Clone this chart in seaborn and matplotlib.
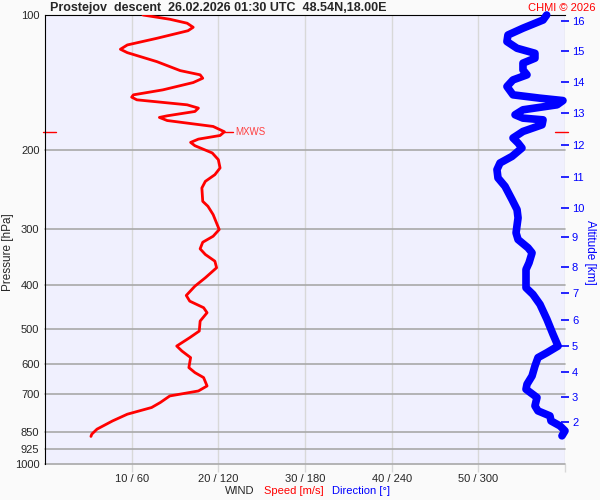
import matplotlib
matplotlib.use("Agg")
import matplotlib.pyplot as plt
import seaborn as sns

# wind speed profile (m/s) against pressure (hPa)
speed_p = [100.0, 102.2, 104.3, 106.5, 108.4, 112.7, 116.6, 119.2, 121.3, 127.0,
           133.0, 135.9, 138.3, 141.4, 146.8, 150.6, 152.4, 154.5, 158.5, 161.2,
           164.0, 167.7, 169.1, 171.8, 177.1, 182.0, 185.5, 189.0, 192.2, 195.5,
           202.9, 210.0, 219.1, 226.8, 234.7, 242.8, 260.0, 266.7, 278.3, 300.5,
           311.0, 320.7, 331.7, 341.5, 353.4, 365.5, 384.8, 401.7, 421.3, 433.8,
           448.6, 460.3, 480.5, 505.7, 523.1, 546.1, 560.3, 579.5, 610.0, 625.8,
           642.0, 670.2, 687.6, 705.4, 729.6, 748.5, 774.6, 801.7, 836.3, 858.0, 868.2]
speed = [11.3, 14.4, 16.4, 17.1, 16.5, 12.9, 9.5, 8.7, 9.5, 12.9,
         15.6, 17.9, 18.2, 17.1, 13.6, 10.2, 10.0, 10.6, 16.4, 17.7,
         17.3, 14.1, 13.2, 14.1, 19.4, 20.7, 20.2, 17.7, 16.8, 17.3,
         19.3, 20.0, 20.2, 19.6, 18.5, 18.1, 18.2, 18.8, 19.4, 20.1,
         19.4, 18.2, 17.9, 18.5, 19.6, 19.8, 18.5, 17.3, 16.3, 16.7,
         18.3, 18.7, 17.9, 17.8, 16.7, 15.2, 15.8, 16.8, 16.6, 17.3,
         18.3, 18.7, 17.7, 14.4, 13.3, 12.3, 9.5, 7.8, 6.0, 5.4, 5.3]

# wind direction profile (deg) against pressure (hPa)
dir_p = [100.0, 102.6, 107.0, 110.8, 114.6, 118.6, 121.7, 124.8, 128.0, 132.5,
         135.9, 139.5, 144.3, 150.6, 153.2, 155.1, 158.5, 162.6, 166.8, 169.7,
         171.2, 175.6, 181.7, 187.9, 192.8, 197.8, 206.5, 213.6, 221.0, 230.6,
         240.8, 257.7, 271.3, 283.0, 305.6, 316.3, 330.0, 338.6, 356.3, 368.8,
         405.0, 419.1, 441.1, 476.3, 514.3, 546.1, 565.0, 579.5, 605.0, 636.7,
         664.2, 681.6, 711.0, 742.4, 761.6, 781.4, 801.7, 822.4, 843.6, 865.5]
direction = [347.3, 344.8, 330.9, 320.5, 319.8, 326.8, 339.2, 339.2, 330.9, 330.9,
             333.7, 324.0, 319.8, 324.0, 342.7, 358.6, 354.5, 330.9, 325.4, 330.9,
             344.8, 344.1, 330.9, 324.0, 327.5, 330.2, 323.3, 315.0, 312.9, 313.6,
             318.5, 323.3, 326.8, 327.5, 326.1, 327.5, 334.4, 337.2, 335.1, 333.0,
             333.0, 337.8, 342.7, 347.5, 351.7, 355.2, 347.5, 341.3, 339.2, 337.2,
             333.7, 333.0, 340.6, 339.2, 341.3, 349.6, 350.3, 356.5, 360.0, 357.9]

pressure_ticks = [100, 200, 300, 400, 500, 600, 700, 850, 925, 1000]
speed_ticks = [10, 20, 30, 40, 50, 60]
speed_labels = ["10 / 60", "20 / 120", "30 / 180", "40 / 240", "50 / 300", ""]

alt_km = [2, 3, 4, 5, 6, 7, 8, 9, 10, 11, 12, 13, 14, 15, 16]
alt_p = [804.8, 708.2, 623.2, 547.0, 478.7, 417.0, 363.2, 311.5, 269.2,
         229.1, 194.8, 165.4, 140.9, 120.4, 102.9]

mxws_p = 182.0
mxws_speed = 20.7

title = "Prostejov  descent  26.02.2026 01:30 UTC  48.54N,18.00E"

sns.set_style("white")
plt.rcParams["font.family"] = ["Liberation Sans", "DejaVu Sans"]

fig = plt.figure(figsize=(6, 5), dpi=100, facecolor="#fafafa")
ax = fig.add_axes([45 / 600, 36 / 500, 520 / 600, 449 / 500])
ax.set_facecolor("#f0f0fe")

# speed (red)
sns.lineplot(x=speed, y=speed_p, sort=False, estimator=None, color="red",
             lw=2, ax=ax, zorder=5, solid_joinstyle="round")

# direction (blue) on a twin x axis 0-360
ax2 = ax.twiny()
sns.lineplot(x=direction, y=dir_p, sort=False, estimator=None, color="blue",
             lw=5.5, ax=ax2, zorder=5, solid_capstyle="round",
             solid_joinstyle="round", clip_on=False)
ax2.set_xlim(0, 360)
ax2.set_xticks([])
for s in ax2.spines.values():
    s.set_visible(False)
ax2.set_xlabel("")

ax.set_yscale("log")
ax.set_xlim(0, 60)
ax.set_ylim(1000, 100)
ax.set_yticks(pressure_ticks, labels=[str(p) for p in pressure_ticks])
ax.minorticks_off()
ax.set_xticks(speed_ticks, labels=speed_labels)
ax.set_xlabel("")
ax.set_ylabel("")
ax.set_axisbelow(True)
ax.grid(axis="x", color="#d8d8d8", lw=1)
for p in pressure_ticks[1:]:
    ax.axhline(p, color="#a8a8a8", lw=1.2, zorder=1, clip_on=False)
ax.tick_params(axis="y", length=0, pad=4, labelsize=8)
ax.tick_params(axis="x", length=6, width=1, color="#d8d8d8", pad=1, labelsize=8)
ax.spines["left"].set_color("black")
ax.spines["top"].set_color("black")
ax.spines["right"].set_visible(False)
ax.spines["bottom"].set_visible(False)

# max wind marker
ax.plot([mxws_speed, mxws_speed + 1.0], [mxws_p, mxws_p], color="red", lw=1, zorder=6)
ax.text(mxws_speed + 1.2, mxws_p, "MXWS", color="#ff4040", fontsize=7, va="center")
ytr = ax.get_yaxis_transform()
ax.plot([-0.004, 0.021], [mxws_p, mxws_p], transform=ytr, color="red", lw=1, clip_on=False)
ax.plot([0.981, 1.006], [mxws_p, mxws_p], transform=ytr, color="red", lw=1, clip_on=False)

# altitude axis on the right
ax3 = ax.twinx()
ax3.set_yscale("log")
ax3.set_ylim(1000, 100)
ax3.set_yticks(alt_p, labels=[str(k) for k in alt_km])
ax3.minorticks_off()
ax3.tick_params(axis="y", colors="blue", direction="inout", length=6,
                width=1.2, labelsize=8, pad=2)
for s in ax3.spines.values():
    s.set_visible(False)

fig.text(50 / 600, 1 - 8 / 500, title, fontweight="bold", fontsize=9, va="center")
fig.text(596 / 600, 1 - 8 / 500, "CHMI © 2026", color="red", fontsize=8,
         ha="right", va="center")
fig.text(8 / 600, 1 - 252 / 500, "Pressure [hPa]", rotation=90, fontsize=8.5,
         ha="center", va="center")
fig.text(590 / 600, 1 - 252 / 500, "Altitude [km]", rotation=270, fontsize=8.5,
         color="blue", ha="center", va="center")
fig.text(225 / 600, 1 - 491 / 500, "WIND", fontsize=8, va="center")
fig.text(264 / 600, 1 - 491 / 500, "Speed [m/s]", fontsize=8, color="red", va="center")
fig.text(332 / 600, 1 - 491 / 500, "Direction [°]", fontsize=8, color="blue", va="center")

fig.savefig("out.png", dpi=100, facecolor=fig.get_facecolor())
